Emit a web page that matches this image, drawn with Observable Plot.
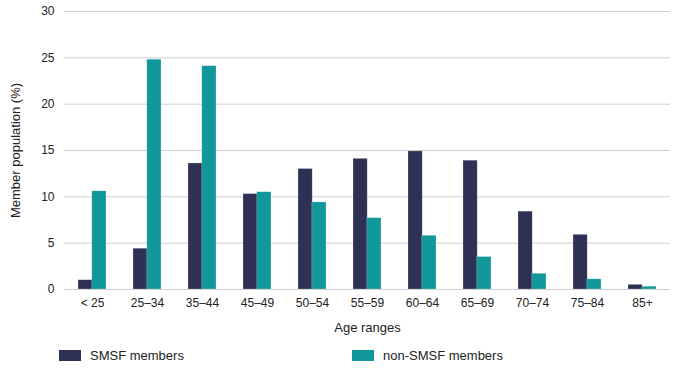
<!DOCTYPE html>
<html>
<head>
<meta charset="utf-8">
<script src="https://cdn.jsdelivr.net/npm/d3@7"></script>
<script src="https://cdn.jsdelivr.net/npm/@observablehq/plot@0.6"></script>
<style>
  html, body { margin: 0; padding: 0; background: #fff; }
  body { width: 689px; height: 370px; overflow: hidden; font-family: "Liberation Sans", Arial, sans-serif; color: #222; }
  svg, svg text { font-family: "Liberation Sans", Arial, sans-serif !important; }
  #legend { position: relative; height: 34px; font-size: 13px; }
  .item { position: absolute; top: 12px; display: flex; align-items: center; }
  .sw { width: 22px; height: 11px; margin-right: 9px; }
</style>
</head>
<body>
<div id="chart"></div>
<div id="legend"></div>
<script>
const ages = ["< 25", "25–34", "35–44", "45–49", "50–54", "55–59", "60–64", "65–69", "70–74", "75–84", "85+"];
const seriesNames = ["SMSF members", "non-SMSF members"];
const smsf = [1.0, 4.4, 13.6, 10.3, 13.0, 14.1, 14.9, 13.9, 8.4, 5.9, 0.5];
const nonSmsf = [10.6, 24.8, 24.1, 10.5, 9.4, 7.7, 5.8, 3.5, 1.7, 1.1, 0.3];
const colors = ["#2e3154", "#12989a"];
const yTicks = [0, 5, 10, 15, 20, 25, 30];

const smsfData = ages.map((a, i) => ({age: a, series: seriesNames[0], value: smsf[i]}));
const nonData = ages.map((a, i) => ({age: a, series: seriesNames[1], value: nonSmsf[i]}));

const half = 13.8; // half of band width, px
const chart = Plot.plot({
  width: 689,
  height: 336,
  marginLeft: 64,
  marginRight: 19,
  marginTop: 11,
  marginBottom: 47,
  style: {fontFamily: "'Liberation Sans', Arial, sans-serif", fontSize: "12px", color: "#222", background: "#fff"},
  x: {domain: ages, paddingInner: 0.5, paddingOuter: 0.25},
  y: {domain: [0, 30]},
  color: {domain: seriesNames, range: colors},
  marks: [
    Plot.ruleY(yTicks, {stroke: "#cfcfcf", strokeWidth: 1}),
    Plot.barY(smsfData, {x: "age", y: "value", fill: "series", insetRight: half, stroke: "#ffffff", strokeOpacity: 0.35, strokeWidth: 0.6}),
    Plot.barY(nonData, {x: "age", y: "value", fill: "series", insetLeft: half, stroke: "#ffffff", strokeOpacity: 0.35, strokeWidth: 0.6}),
    Plot.axisX({tickSize: 0, tickPadding: 9, label: null}),
    Plot.axisX({tickSize: 0, ticks: [], label: "Age ranges", labelAnchor: "center", labelOffset: 42, labelArrow: "none", fontSize: 13}),
    Plot.axisY({ticks: yTicks, tickSize: 0, tickPadding: 10, label: null}),
    Plot.axisY({ticks: [], tickSize: 0, label: "Member population (%)", labelAnchor: "center", labelOffset: 54, labelArrow: "none", fontSize: 13})
  ]
});
document.getElementById("chart").appendChild(chart);

const legend = document.getElementById("legend");
const lefts = [59, 352];
seriesNames.forEach((s, i) => {
  const it = document.createElement("div");
  it.className = "item";
  it.style.left = lefts[i] + "px";
  const sw = document.createElement("div");
  sw.className = "sw";
  sw.style.background = colors[i];
  const tx = document.createElement("span");
  tx.textContent = s;
  it.appendChild(sw);
  it.appendChild(tx);
  legend.appendChild(it);
});
</script>
</body>
</html>
